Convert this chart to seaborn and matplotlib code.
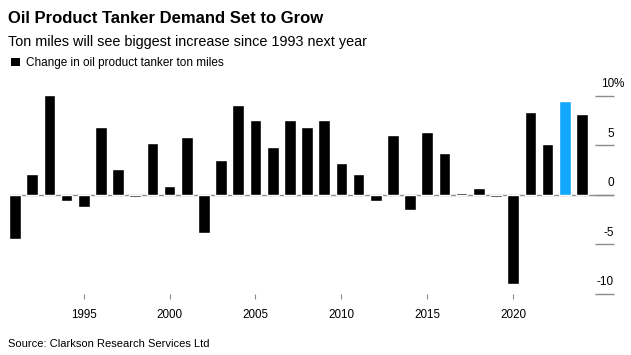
import pandas as pd
import matplotlib.pyplot as plt
import matplotlib.transforms as mtransforms
from matplotlib.patches import Patch
import seaborn as sns

# Data (% change in ton miles per year)
years = list(range(1991, 2025))
change = [-4.5, 2.1, 10.1, -0.6, -1.2, 6.8, 2.6, -0.2, 5.2, 0.9,
          5.8, -3.8, 3.5, 9.1, 7.6, 4.8, 7.6, 6.8, 7.5, 3.2,
          2.1, -0.6, 6.0, -1.5, 6.3, 4.2, 0.2, 0.7, -0.2, -9.0,
          8.4, 5.1, 9.5, 8.2]
highlight_year = 2023
tick_years = [1995, 2000, 2005, 2010, 2015, 2020]
y_ticks = [10, 5, 0, -5, -10]
y_labels = ['10', '5', '0', '-5', '-10']

df = pd.DataFrame({'year': years, 'change': change})
df['group'] = ['highlight' if y == highlight_year else 'other' for y in df['year']]

sns.set_style('white')
plt.rcParams['font.family'] = ['Liberation Sans', 'DejaVu Sans']

GRAY = '#8c8c8c'
BLUE = '#12a9fd'

fig = plt.figure(figsize=(6.31, 3.55), dpi=100)
ax = fig.add_axes([0.01426, 0.1718, 0.9588, 0.5586])

sns.barplot(data=df, x='year', y='change', hue='group',
            palette={'other': 'black', 'highlight': BLUE},
            dodge=False, width=0.68, errorbar=None, legend=False,
            saturation=1, order=years, ax=ax)

ax.set_xlim(-0.35, len(years) - 1 + 1.87)
ax.set_ylim(-10, 10)
ax.axhline(0, color=GRAY, lw=1, zorder=0.5)
for s in ax.spines.values():
    s.set_visible(False)

# x axis
ax.set_xticks([years.index(y) for y in tick_years])
ax.set_xticklabels([str(y) for y in tick_years])
ax.tick_params(axis='x', length=3.6, width=0.8, color=GRAY, pad=7,
               labelsize=8.4, labelcolor='black', bottom=True)
ax.set_xlabel('')

# y axis on the right: short lines with labels sitting above them
ax.yaxis.tick_right()
ax.set_yticks(y_ticks)
ax.tick_params(axis='y', direction='in', length=13.7, width=1, color=GRAY,
               labelright=False, labelleft=False, right=True)
ax.set_ylabel('')
trans = mtransforms.blended_transform_factory(ax.transAxes, ax.transData)
lab_trans = mtransforms.offset_copy(trans, fig=fig, y=6.3, units='points')
for v, lab in zip(y_ticks, y_labels):
    ax.text(1.0, v, lab, transform=lab_trans, ha='right', va='baseline',
            fontsize=8.5, color='black')
ax.text(1.0, 10, '%', transform=lab_trans, ha='left', va='baseline',
        fontsize=8.5, color='black')

# titles, legend, source
fig.text(8 / 631, 1 - 22.7 / 355, 'Oil Product Tanker Demand Set to Grow',
         fontsize=12, fontweight='bold', va='baseline', ha='left', color='black')
fig.text(8 / 631, 1 - 46 / 355, 'Ton miles will see biggest increase since 1993 next year',
         fontsize=10.4, va='baseline', ha='left', color='black')
fig.legend(handles=[Patch(facecolor='black', edgecolor='none')],
           labels=['Change in oil product tanker ton miles'],
           loc='upper left', bbox_to_anchor=(11 / 631, 1 - 57 / 355),
           frameon=False, fontsize=8.5, handlelength=0.75, handleheight=0.75,
           handletextpad=0.5, borderpad=0, borderaxespad=0, labelcolor='black')
fig.text(8 / 631, 1 - 347 / 355, 'Source: Clarkson Research Services Ltd',
         fontsize=8, va='baseline', ha='left', color='black')

fig.savefig('out.png', dpi=100, facecolor='white')
plt.close(fig)
